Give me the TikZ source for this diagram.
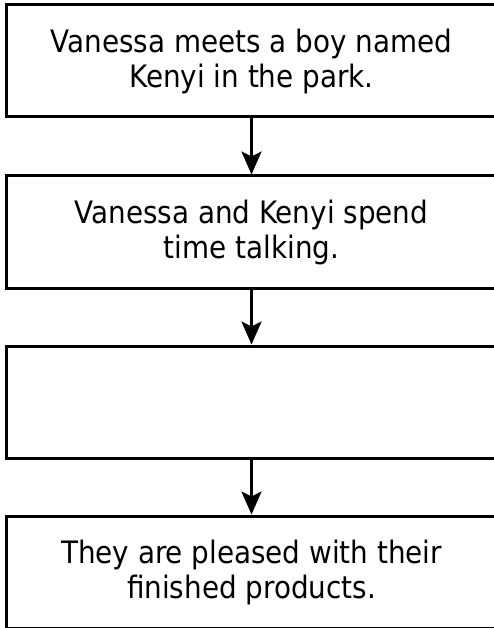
\documentclass[tikz,border=0pt]{standalone}
\usepackage{fontspec}
\setmainfont{DejaVu Sans Condensed}
\usetikzlibrary{arrows.meta}
\begin{document}
\begin{tikzpicture}[x=1pt,y=1pt,
  box/.style={draw=black, line width=3pt, minimum width=490pt, minimum height=112pt, inner sep=0pt, align=center, font=\fontsize{30.9}{35}\selectfont},
  conn/.style={line width=2.8pt, -{Stealth[length=23pt,width=20pt,inset=5pt]}}]
\useasboundingbox (0,0) rectangle (494,-628);
\node[box] (b1) at (251.5,-61) {Vanessa meets a boy named\\Kenyi in the park.};
\node[box] (b2) at (251.5,-232) {Vanessa and Kenyi spend\\time talking.};
\node[box] (b3) at (251.5,-402) {};
\node[box] (b4) at (251.5,-572) {They are pleased with their\\finished products.};
\draw[conn] (b1.south) -- (b2.north);
\draw[conn] (b2.south) -- (b3.north);
\draw[conn] (b3.south) -- (b4.north);
\end{tikzpicture}
\end{document}
